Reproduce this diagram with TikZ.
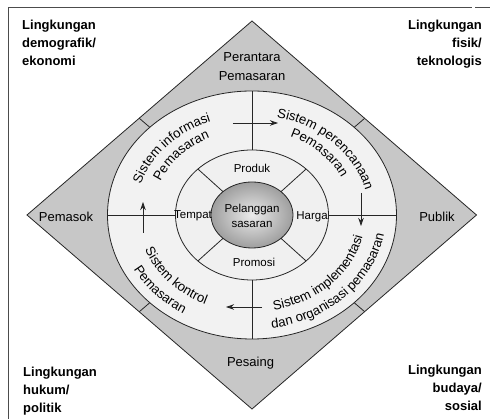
\documentclass[tikz,border=0pt]{standalone}
\usepackage{fontspec}
\setmainfont{Liberation Sans}
\usetikzlibrary{decorations.text, arrows.meta, calc}
\newcommand\ringfont{\fontsize{13.2}{16}\selectfont}

\begin{document}
\begin{tikzpicture}[x=1pt, y=1pt,
  rim/.style={line width=0.8pt, draw=black!85},
  divider/.style={line width=0.8pt, draw=black!85},
  flow/.style={line width=0.8pt, draw=black!85, -{Stealth[length=8pt,width=5.5pt]}},
  sector/.style={font=\fontsize{13}{19}\selectfont, align=center, inner sep=0pt},
  mix/.style={font=\fontsize{11.5}{15}\selectfont, align=center, inner sep=0pt},
  envlabel/.style={font=\bfseries\fontsize{13}{18}\selectfont, inner sep=0pt},
  ringtext/.style={decorate, decoration={text along path, text align=center, text={|\ringfont|#1}}},
]
\useasboundingbox (-252,-204) rectangle (238,215);

% page frame (top and left rules)
\draw[black!70, line width=0.8pt] (-244,-204) -- (-244,208) -- (220,208);
\draw[black!70, line width=0.8pt] (223,208) -- (238,208);

% outer diamond: the four groups of actors
\coordinate (dT) at (0,194);
\coordinate (dR) at (224.5,0);
\coordinate (dB) at (0,-194);
\coordinate (dL) at (-225,0);
\filldraw[fill=black!22, rim] (dT) -- (dR) -- (dB) -- (dL) -- cycle;

% rings
\filldraw[fill=black!5, rim] (0,0) ellipse [x radius=144.5, y radius=124];
\filldraw[fill=black!6, rim] (0,0) ellipse [x radius=76.5, y radius=65];
\shadedraw[inner color=black!8, outer color=black!38, rim] (0,0) ellipse [x radius=41, y radius=33];

% diagonal dividers of the marketing mix ring and of the diamond
\foreach \a in {45,135,225,315} {
  \coordinate (i\a) at (\a:41pt and 33pt);
  \coordinate (m\a) at (\a:76.5pt and 65pt);
  \coordinate (o\a) at (\a:144.5pt and 124pt);
  \coordinate (e\a) at ($(0,0)!1.1025!(o\a)$);
  \draw[divider] (i\a) -- (m\a);
  \draw[divider] (o\a) -- (e\a);
}

% dividers of the systems ring
\coordinate (mN) at (0,65);    \coordinate (oN) at (0,124);
\coordinate (mS) at (0,-65);   \coordinate (oS) at (0,-124);
\coordinate (mW) at (-76.5,0); \coordinate (oW) at (-144.5,0);
\coordinate (mE) at (76.5,0);  \coordinate (oE) at (144.5,0);
\draw[divider] (mN) -- (oN);
\draw[divider] (mS) -- (oS);
\draw[divider] (mW) -- (oW);
\draw[divider] (mE) -- (oE);

% flow arrows between the four systems
\coordinate (aN1) at (-19,92);  \coordinate (aN2) at (26,92);
\coordinate (aE1) at (109,22);  \coordinate (aE2) at (109,-11);
\coordinate (aS1) at (10,-92);  \coordinate (aS2) at (-26,-92);
\coordinate (aW1) at (-109,-18);\coordinate (aW2) at (-109,13);
\draw[flow] (aN1) -- (aN2);
\draw[flow] (aE1) -- (aE2);
\draw[flow] (aS1) -- (aS2);
\draw[flow] (aW1) -- (aW2);

% curved labels of the systems ring
\path[ringtext={Sistem informasi}] (180:117pt and 100pt) arc[start angle=180, end angle=95, x radius=117, y radius=100];
\path[ringtext={Pemasaran}] (180:99.5pt and 85pt) arc[start angle=180, end angle=95, x radius=99.5, y radius=85];
\path[ringtext={Sistem perencanaan}] (90:117pt and 100pt) arc[start angle=90, end angle=0, x radius=117, y radius=100];
\path[ringtext={Pemasaran}] (90:99.5pt and 85pt) arc[start angle=90, end angle=0, x radius=99.5, y radius=85];
\path[ringtext={Sistem implementasi}] (270:113.5pt and 97pt) arc[start angle=270, end angle=360, x radius=113.5, y radius=97];
\path[ringtext={dan organisasi pemasaran}] (270:134pt and 114.5pt) arc[start angle=270, end angle=360, x radius=134, y radius=114.5];
\path[ringtext={Sistem kontrol}] (180:114.5pt and 98pt) arc[start angle=180, end angle=264, x radius=114.5, y radius=98];
\path[ringtext={Pemasaran}] (180:134pt and 115pt) arc[start angle=180, end angle=264, x radius=134, y radius=115];

% diamond sector labels
\node[sector] (perantara) at (0,148) {Perantara\\Pemasaran};
\node[sector] (pemasok) at (-186,-2) {Pemasok};
\node[sector] (publik) at (185,-2) {Publik};
\node[sector] (pesaing) at (-1.5,-148) {Pesaing};

% marketing mix and target customers
\node[mix] (produk) at (0,47) {Produk};
\node[mix] (harga) at (60,-2) {Harga};
\node[mix] (promosi) at (2,-47) {Promosi};
\node[mix] (tempat) at (-59,-1) {Tempat};
\node[mix] (target) at (0,-0.5) {Pelanggan\\sasaran};

% macro environment labels in the corners
\node[envlabel, anchor=north west, align=left] (demo) at (-230,195) {Lingkungan\\demografik/\\ekonomi};
\node[envlabel, anchor=north east, align=right] (fisik) at (230,195) {Lingkungan\\fisik/\\teknologis};
\node[envlabel, anchor=north west, align=left] (hukum) at (-229,-152) {Lingkungan\\hukum/\\politik};
\node[envlabel, anchor=north east, align=right] (budaya) at (230,-150) {Lingkungan\\budaya/\\sosial};
\end{tikzpicture}
\end{document}
